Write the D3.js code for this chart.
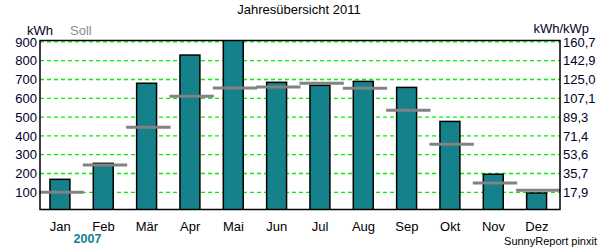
<!DOCTYPE html>
<html><head><meta charset="utf-8">
<script src="https://cdn.jsdelivr.net/npm/d3@7"></script>
<style>body{margin:0;background:#fff}svg{display:block;font-family:"Liberation Sans",Arial,sans-serif}</style>
</head><body>
<svg id="c" width="600" height="250"></svg>
<script>
const months = ["Jan","Feb","Mär","Apr","Mai","Jun","Jul","Aug","Sep","Okt","Nov","Dez"];
const ertrag = [169, 254, 680, 830, 910, 685, 669, 690, 658, 477, 196, 96];
const soll   = [100, 245, 446, 611, 655, 660, 680, 653, 536, 356, 149, 111];
const leftTicks = [100, 200, 300, 400, 500, 600, 700, 800, 900];
const rightTickLabels = ["17,9","35,7","53,6","71,4","89,3","107,1","125,0","142,9","160,7"];

const svg = d3.select("#c");
const L = 40, R = 560, T = 40.5, B = 209.5;
const x = d3.scaleBand().domain(months).range([L, R]).padding(0);
const y = d3.scaleLinear().domain([0, 900]).range([211.1, 41.9]);
const bw = x.bandwidth();

svg.append("defs").append("clipPath").attr("id","pc")
  .append("rect").attr("x",L).attr("y",T).attr("width",R-L).attr("height",B-T);

svg.append("text").attr("x",299).attr("y",14).attr("text-anchor","middle")
  .attr("font-size",13).attr("fill","#000").text("Jahresübersicht 2011");

svg.append("g").selectAll("line").data(leftTicks).join("line")
  .attr("x1",L).attr("x2",R).attr("y1",d=>y(d)).attr("y2",d=>y(d))
  .attr("stroke","#00f000").attr("stroke-width",1.3).attr("stroke-dasharray","4,3");

const g = svg.append("g").attr("clip-path","url(#pc)");
g.selectAll("rect.bar").data(ertrag).join("rect").attr("class","bar")
  .attr("x",(d,i)=>x(months[i])+bw*0.23).attr("width",bw*0.46)
  .attr("y",d=>y(d)).attr("height",d=>B-y(d)+2)
  .attr("fill","#15818a").attr("stroke","#000").attr("stroke-width",1.5);

svg.append("g").selectAll("line").data(soll).join("line")
  .attr("x1",(d,i)=>x(months[i])-0.5).attr("x2",(d,i)=>x(months[i])+bw+0.5)
  .attr("y1",d=>y(d)).attr("y2",d=>y(d))
  .attr("stroke","#828282").attr("stroke-width",3);

svg.append("rect").attr("x",L).attr("y",T).attr("width",R-L).attr("height",B-T)
  .attr("fill","none").attr("stroke","#000").attr("stroke-width",1.5);

const yl = svg.append("g").attr("transform",`translate(${L},0)`)
  .call(d3.axisLeft(y).tickValues(leftTicks).tickSize(0).tickPadding(3));
const yr = svg.append("g").attr("transform",`translate(${R},0)`)
  .call(d3.axisRight(y).tickValues(leftTicks).tickSize(0).tickPadding(3)
    .tickFormat((d,i)=>rightTickLabels[i]));
const xa = svg.append("g").attr("transform",`translate(-1.5,${B})`)
  .call(d3.axisBottom(x).tickSize(0).tickPadding(12));
[yl,yr,xa].forEach(a=>{a.select(".domain").remove();
  a.selectAll("text").attr("font-size",13).attr("font-family","Liberation Sans, Arial, sans-serif").attr("fill","#000028");});
xa.selectAll("text").attr("fill","#000");

svg.append("text").attr("x",27).attr("y",34.5).attr("font-size",13).attr("fill","#000028").text("kWh");
svg.append("text").attr("x",70).attr("y",34.5).attr("font-size",13).attr("fill","#8c8c8c").text("Soll");
svg.append("text").attr("x",589).attr("y",33).attr("text-anchor","end").attr("font-size",13).attr("fill","#000028").text("kWh/kWp");
svg.append("text").attr("x",87.5).attr("y",243).attr("text-anchor","middle").attr("font-size",12.5).attr("font-weight","bold").attr("fill","#15818a").text("2007");
svg.append("text").attr("x",597).attr("y",245).attr("text-anchor","end").attr("font-size",11).attr("fill","#000").text("SunnyReport pinxit");
</script>
</body></html>
